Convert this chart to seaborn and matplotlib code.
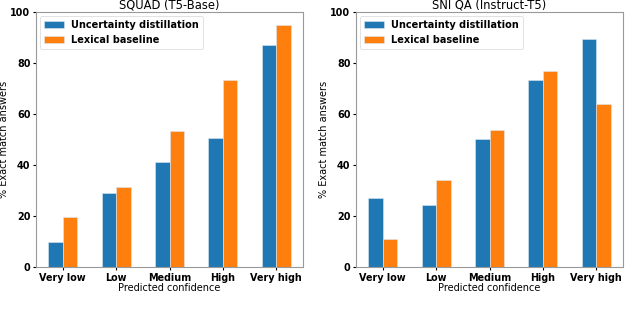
import matplotlib
matplotlib.use("Agg")
import matplotlib.pyplot as plt
import seaborn as sns
import pandas as pd

categories = ["Very low", "Low", "Medium", "High", "Very high"]
series_names = ["Uncertainty distillation", "Lexical baseline"]
squad_distill = [9.7, 29.0, 41.0, 50.5, 87.2]
squad_lexical = [19.8, 31.3, 53.3, 73.4, 94.8]
sni_distill = [26.9, 24.2, 50.1, 73.2, 89.6]
sni_lexical = [11.1, 34.2, 53.7, 76.9, 64.1]
titles = ["SQUAD (T5-Base)", "SNI QA (Instruct-T5)"]
yticks = [0, 20, 40, 60, 80, 100]

def make_df(a, b):
    rows = []
    for c, v in zip(categories, a):
        rows.append({"conf": c, "method": series_names[0], "val": v})
    for c, v in zip(categories, b):
        rows.append({"conf": c, "method": series_names[1], "val": v})
    return pd.DataFrame(rows)

dfs = [make_df(squad_distill, squad_lexical), make_df(sni_distill, sni_lexical)]
palette = {series_names[0]: "#1f77b4", series_names[1]: "#ff7f0e"}

fig, axes = plt.subplots(1, 2, figsize=(6.4, 3.09), dpi=100)
lefts = [36 / 640, 356 / 640]
for ax, df, title, l in zip(axes, dfs, titles, lefts):
    ax.set_position([l, 1 - 267 / 309, 267 / 640, 255 / 309])
    sns.barplot(data=df, x="conf", y="val", hue="method", palette=palette,
                width=0.54, edgecolor="#dde8f0", linewidth=0.4, ax=ax,
                saturation=1, errorbar=None)
    ax.set_ylim(0, 100)
    ax.set_yticks(yticks)
    ax.set_title(title, fontsize=8.3, pad=2)
    ax.set_xlabel("Predicted confidence", fontsize=7, labelpad=0)
    ax.set_ylabel("% Exact match answers", fontsize=7, labelpad=1)
    for lab in ax.get_xticklabels() + ax.get_yticklabels():
        lab.set_fontweight("bold")
        lab.set_fontsize(6.9)
    ax.tick_params(length=2.5, pad=1.5)
    for s in ax.spines.values():
        s.set_color("#999999")
        s.set_linewidth(0.8)
    leg = ax.legend(loc="upper left", prop={"weight": "bold", "size": 7},
                    handlelength=2.0, borderaxespad=0.45)
    leg.get_frame().set_linewidth(0.5)

fig.savefig("out.png", dpi=100)
